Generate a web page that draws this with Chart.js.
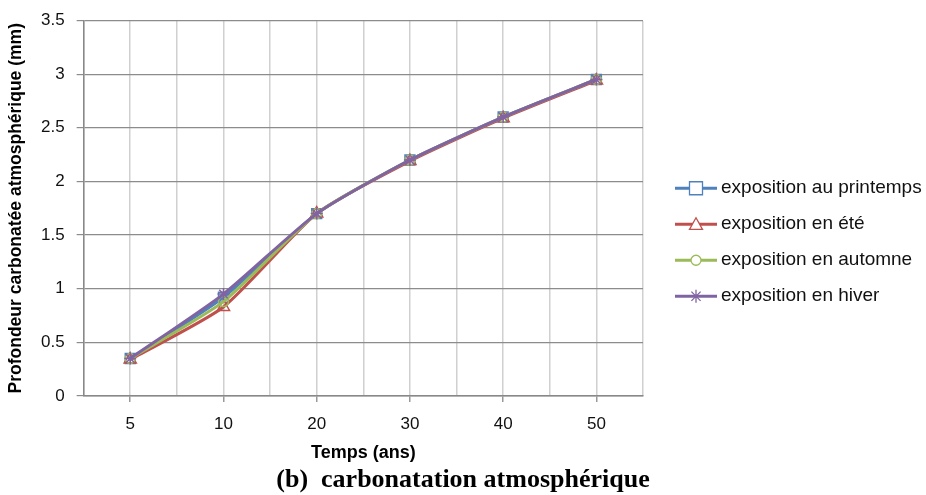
<!DOCTYPE html>
<html>
<head>
<meta charset="utf-8">
<script src="https://cdn.jsdelivr.net/npm/chart.js@4.4.1/dist/chart.umd.min.js"></script>
<style>
html,body{margin:0;padding:0;background:#fff;}
#wrap{position:relative;width:926px;height:495px;}
</style>
</head>
<body>
<div id="wrap"><canvas id="c" width="926" height="495"></canvas></div>
<script>
const categories = ['5', '10', '20', '30', '40', '50'];
const printemps = [0.35, 0.92, 1.70, 2.20, 2.60, 2.95];
const ete       = [0.34, 0.83, 1.70, 2.19, 2.59, 2.94];
const automne   = [0.35, 0.88, 1.70, 2.20, 2.60, 2.95];
const hiver     = [0.35, 0.95, 1.70, 2.20, 2.60, 2.95];
const seriesNames = ['exposition au printemps', 'exposition en été', 'exposition en automne', 'exposition en hiver'];
const yTicks = [0, 0.5, 1, 1.5, 2, 2.5, 3, 3.5];
const caption = '(b)  carbonatation atmosphérique';

const colors = ['#4F81BD', '#C0504D', '#9BBB59', '#8064A2'];
const styles = ['rect', 'triangle', 'circle', 'star'];
const radii = [7, 7, 5, 6];
const font = 'Liberation Sans';

function drawMarker(ctx, style, x, y, r, color) {
  ctx.save();
  ctx.strokeStyle = color; ctx.fillStyle = '#fff'; ctx.lineWidth = 1.3;
  ctx.beginPath();
  if (style === 'rect') { ctx.rect(x - r, y - r, 2 * r, 2 * r); ctx.fill(); ctx.stroke(); }
  else if (style === 'triangle') { ctx.moveTo(x, y - r); ctx.lineTo(x + r, y + r * 0.8); ctx.lineTo(x - r, y + r * 0.8); ctx.closePath(); ctx.fill(); ctx.stroke(); }
  else if (style === 'circle') { ctx.arc(x, y, r, 0, Math.PI * 2); ctx.fill(); ctx.stroke(); }
  else { for (let k = 0; k < 4; k++) { const a = k * Math.PI / 4; ctx.moveTo(x - r * Math.cos(a), y - r * Math.sin(a)); ctx.lineTo(x + r * Math.cos(a), y + r * Math.sin(a)); } ctx.stroke(); }
  ctx.restore();
}

// custom legend to the right of the plot area + caption centred under the whole figure
const extrasPlugin = {
  id: 'extras',
  afterDraw(chart) {
    const ctx = chart.ctx;
    const area = chart.chartArea;
    const x0 = area.right + 32;
    const rowH = 36;
    const n = chart.data.datasets.length;
    const yMid = (area.top + area.bottom) / 2 + 34;
    const yStart = yMid - (n - 1) * rowH / 2;
    chart.data.datasets.forEach((ds, i) => {
      const y = yStart + i * rowH;
      ctx.save();
      ctx.strokeStyle = colors[i]; ctx.lineWidth = 3;
      ctx.beginPath(); ctx.moveTo(x0, y); ctx.lineTo(x0 + 42, y); ctx.stroke();
      drawMarker(ctx, styles[i], x0 + 21, y, i === 2 ? 5 : 6.5, colors[i]);
      ctx.fillStyle = '#111';
      ctx.font = '19px "' + font + '"';
      ctx.textBaseline = 'middle';
      ctx.fillText(ds.label, x0 + 46, y);
      ctx.restore();
    });
    ctx.save();
    ctx.fillStyle = '#000';
    ctx.font = 'bold 26px "Liberation Serif"';
    ctx.textAlign = 'center';
    ctx.textBaseline = 'middle';
    ctx.fillText(caption, chart.width / 2, chart.height - 15);
    ctx.restore();
  }
};

const allSeries = [printemps, ete, automne, hiver];
const datasets = allSeries.map((d, i) => ({
  label: seriesNames[i],
  data: d,
  borderColor: colors[i],
  backgroundColor: colors[i],
  pointBorderColor: colors[i],
  pointBackgroundColor: 'rgba(255,255,255,0)',
  pointStyle: styles[i],
  pointRadius: radii[i],
  pointBorderWidth: 1.5,
  borderWidth: 3,
  tension: 0.2,
  order: 3 - i,
  xAxisID: 'x'
}));

new Chart(document.getElementById('c'), {
  type: 'line',
  data: { labels: categories, datasets },
  plugins: [extrasPlugin],
  options: {
    responsive: false,
    animation: false,
    layout: { padding: { left: 6, right: 283, top: 8, bottom: 31 } },
    plugins: {
      tooltip: { enabled: false },
      legend: { display: false },
      title: { display: false }
    },
    scales: {
      x: {
        type: 'category',
        offset: true,
        grid: { offset: false, color: '#d0d0d0', lineWidth: 1.5, tickLength: 6, tickColor: '#999' },
        border: { color: '#888', width: 1.5 },
        ticks: { color: '#111', font: { family: font, size: 17 }, padding: 12 },
        title: { display: true, text: 'Temps (ans)', color: '#000', font: { family: font, size: 18, weight: 'bold' }, padding: { top: -4, bottom: 0 } }
      },
      x2: {
        type: 'category',
        labels: categories,
        position: 'top',
        offset: true,
        grid: { offset: true, color: '#d0d0d0', lineWidth: 1.5, drawTicks: false },
        border: { display: false },
        ticks: { display: false }
      },
      y: {
        min: 0, max: 3.5,
        afterBuildTicks: (axis) => { axis.ticks = yTicks.map(v => ({ value: v })); },
        grid: { color: '#8c8c8c', lineWidth: 1.2, tickLength: 7, tickColor: '#8c8c8c' },
        border: { color: '#888', width: 1.5 },
        ticks: { color: '#111', font: { family: font, size: 17, lineHeight: 1 }, padding: 12, callback: (v) => String(v) },
        title: { display: true, text: 'Profondeur carbonatée atmosphérique (mm)', color: '#000', font: { family: font, size: 17.5, weight: 'bold' }, padding: { top: 0, bottom: 2 } }
      }
    }
  }
});
</script>
</body>
</html>
